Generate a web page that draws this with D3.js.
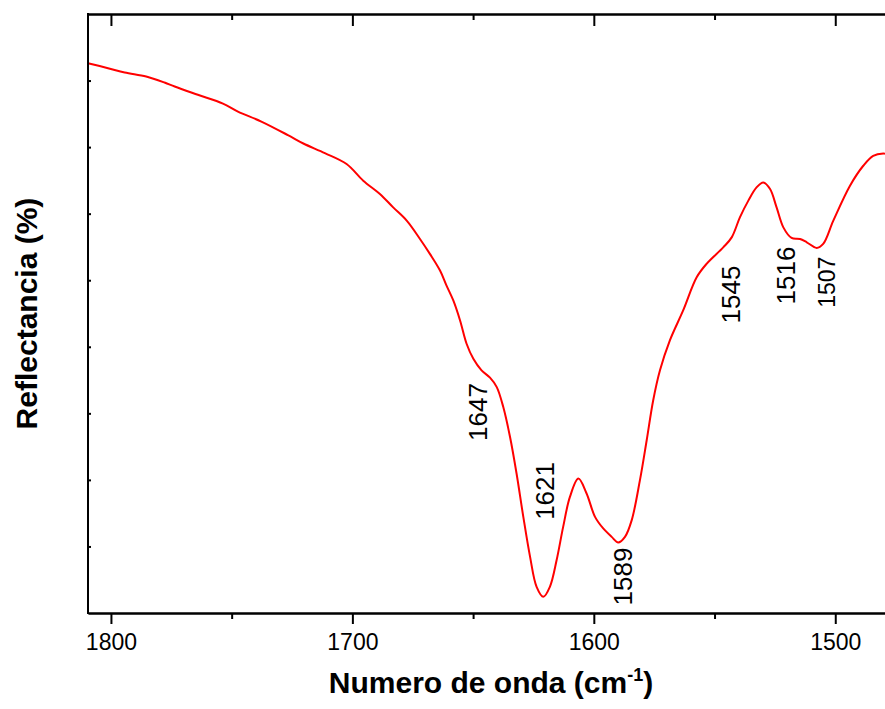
<!DOCTYPE html>
<html>
<head>
<meta charset="utf-8">
<script src="https://cdn.jsdelivr.net/npm/d3@7"></script>
<style>
  html, body { margin: 0; padding: 0; background: #fff; }
  svg { display: block; font-family: "Liberation Sans", Arial, Helvetica, sans-serif; }
</style>
</head>
<body>
<svg id="chart" width="885" height="709"></svg>
<script>
// Wavenumber (cm-1), from high to low
const wavenumber = [
  1809.5, 1801.2, 1794.3, 1785.4, 1777.8, 1773.6, 1764.0, 1753.6, 1747.4, 1737.7,
  1726.7, 1720.3, 1711.4, 1702.4, 1695.5, 1688.6, 1683.1, 1677.5, 1672.0, 1667.9,
  1663.7, 1661.0, 1658.2, 1655.4, 1652.7, 1649.9, 1646.5, 1643.0, 1640.2, 1637.5,
  1634.7, 1632.0, 1629.2, 1626.4, 1623.7, 1620.9, 1618.2, 1615.4, 1612.7, 1609.9,
  1606.4, 1603.0, 1599.5, 1596.1, 1592.6, 1589.9, 1587.1, 1584.3, 1580.9, 1578.1,
  1575.4, 1572.6, 1568.5, 1563.0, 1557.4, 1553.3, 1546.4, 1542.9, 1539.5, 1536.0,
  1532.6, 1529.8, 1527.0, 1524.3, 1521.5, 1518.1, 1514.6, 1511.8, 1507.7, 1505.0,
  1500.8, 1493.9, 1488.4, 1484.3, 1480.1, 1479.4
];

// Reflectance (%)
const reflectance = [
  61.30, 60.93, 60.60, 60.30, 59.85, 59.55, 58.93, 58.27, 57.67, 56.92,
  55.90, 55.27, 54.55, 53.73, 52.48, 51.48, 50.47, 49.48, 48.10, 46.98,
  45.73, 44.60, 43.48, 41.98, 40.23, 39.10, 38.23, 37.68, 36.97, 35.47,
  33.22, 30.48, 27.22, 24.22, 21.97, 21.22, 21.97, 23.98, 26.47, 28.72,
  30.10, 28.98, 27.22, 26.35, 25.72, 25.30, 25.72, 26.98, 29.98, 32.98,
  35.98, 38.23, 40.48, 42.73, 45.22, 46.23, 47.47, 48.22, 49.72, 50.98,
  51.97, 52.35, 51.85, 50.47, 48.97, 48.18, 48.10, 47.85, 47.43, 47.73,
  49.48, 52.10, 53.60, 54.35, 54.52, 54.50
];

// Band assignments written on the curve
const bandLabels = ["1647", "1621", "1589", "1545", "1516", "1507"];
const bandLabelLevel = [35.1, 29.17, 22.74, 43.93, 45.35, 44.85];

// Axis ticks
const xMajorTicks = [1800, 1700, 1600, 1500];
const xMinorTicks = [1750, 1650, 1550];
const yTicks = [25, 30, 35, 40, 45, 50, 55, 60];

// Layout
const margin = { left: 88, right: 885, top: 14, bottom: 613 };
const labelStyle = {
  "1647": { dx: -3, size: 26 },
  "1621": { dx: 2, size: 26 },
  "1589": { dx: 2, size: 26 },
  "1545": { dx: 4, size: 26 },
  "1516": { dx: -11, size: 26 },
  "1507": { dx: 8, size: 23 }
};

const svg = d3.select("#chart");

const x = d3.scaleLinear()
  .domain([wavenumber[0], wavenumber[wavenumber.length - 1]])
  .range([margin.left, margin.right]);

const y = d3.scaleLinear()
  .domain([20, 65])
  .range([margin.bottom, margin.top]);

const points = wavenumber.map((w, i) => [w, reflectance[i]]);

// Spectrum
svg.append("path")
  .datum(points)
  .attr("fill", "none")
  .attr("stroke", "#ff0000")
  .attr("stroke-width", 2)
  .attr("stroke-linejoin", "round")
  .attr("d", d3.line()
    .x(d => x(d[0]))
    .y(d => y(d[1]))
    .curve(d3.curveCatmullRom.alpha(0.5)));

function styleAxis(g) {
  g.select(".domain").attr("stroke", "#000").attr("stroke-width", 2);
  g.selectAll(".tick line").attr("stroke", "#000").attr("stroke-width", 2);
}

// Bottom axis: major ticks with labels
const bottomAxis = svg.append("g")
  .attr("transform", `translate(0,${margin.bottom})`)
  .call(d3.axisBottom(x).tickValues(xMajorTicks).tickSize(11).tickSizeOuter(0).tickPadding(10).tickFormat(d3.format("d")));
styleAxis(bottomAxis);
bottomAxis.selectAll(".tick text")
  .attr("font-size", 23)
  .attr("font-family", "Liberation Sans, Arial, sans-serif")
  .attr("fill", "#000");

// Bottom axis: minor ticks
const bottomMinor = svg.append("g")
  .attr("transform", `translate(0,${margin.bottom})`)
  .call(d3.axisBottom(x).tickValues(xMinorTicks).tickSize(6).tickSizeOuter(0).tickFormat(""));
styleAxis(bottomMinor);

// Top axis: inward ticks, no labels
const topAxis = svg.append("g")
  .attr("transform", `translate(0,${margin.top})`)
  .call(d3.axisTop(x).tickValues(xMajorTicks).tickSize(-12).tickSizeOuter(0).tickFormat(""));
styleAxis(topAxis);
const topMinor = svg.append("g")
  .attr("transform", `translate(0,${margin.top})`)
  .call(d3.axisTop(x).tickValues(xMinorTicks).tickSize(-6).tickSizeOuter(0).tickFormat(""));
styleAxis(topMinor);

// Left axis: short inward ticks, no labels
const leftAxis = svg.append("g")
  .attr("transform", `translate(${margin.left},0)`)
  .call(d3.axisLeft(y).tickValues(yTicks).tickSize(-3).tickSizeOuter(0).tickFormat(""));
styleAxis(leftAxis);
leftAxis.select(".domain").attr("d", `M0,${margin.bottom + 1}V${margin.top - 1}`);

// Band labels, rotated
bandLabels.forEach((lab, i) => {
  const st = labelStyle[lab];
  svg.append("text")
    .attr("transform", `translate(${x(+lab) + st.dx},${y(bandLabelLevel[i])}) rotate(-90)`)
    .attr("text-anchor", "middle")
    .attr("dy", "0.36em")
    .attr("font-size", st.size)
    .attr("fill", "#000")
    .text(lab);
});

// Axis titles
const xTitle = svg.append("text")
  .attr("x", 491)
  .attr("y", 693)
  .attr("text-anchor", "middle")
  .attr("font-size", 30)
  .attr("font-weight", "bold")
  .attr("fill", "#000");
xTitle.append("tspan").text("Numero de onda (cm");
xTitle.append("tspan").attr("font-size", 18).attr("dy", -12).text("-1");
xTitle.append("tspan").attr("dy", 12).text(")");

svg.append("text")
  .attr("transform", `translate(37,${(margin.top + margin.bottom) / 2}) rotate(-90)`)
  .attr("text-anchor", "middle")
  .attr("font-size", 30)
  .attr("font-weight", "bold")
  .attr("fill", "#000")
  .text("Reflectancia (%)");
</script>
</body>
</html>
